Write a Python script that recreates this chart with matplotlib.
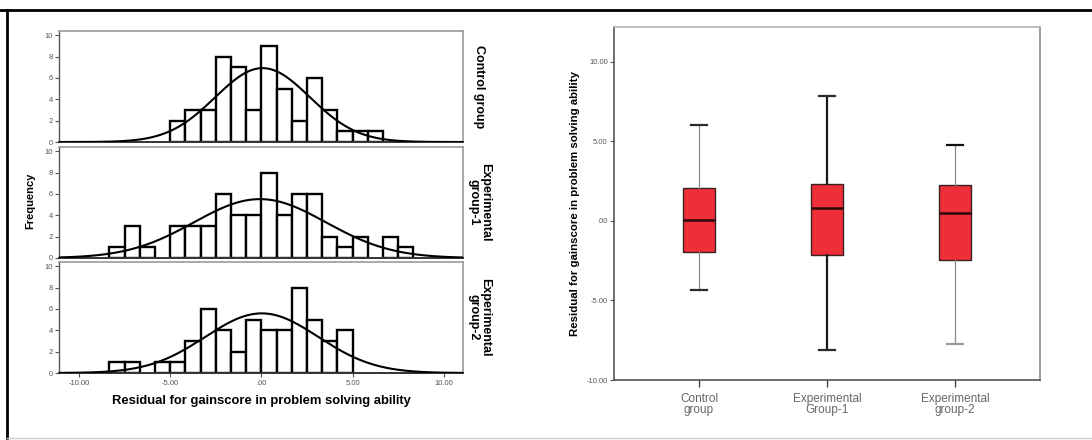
import numpy as np
import matplotlib
matplotlib.use("Agg")
import matplotlib.pyplot as plt
from matplotlib.lines import Line2D

plt.rcParams["font.family"] = ["Liberation Sans", "DejaVu Sans"]

# Histogram counts per group (bin width 5/6, left edge given by *_start)
bin_width = 5.0 / 6.0
control_start = -5.0
control_counts = [2, 3, 3, 8, 7, 3, 9, 5, 2, 6, 3, 1, 1, 1]
exp1_start = -25.0 / 3.0
exp1_counts = [1, 3, 1, 0, 3, 3, 3, 6, 4, 4, 8, 4, 6, 6, 2, 1, 2, 0, 2, 1]
exp2_start = -25.0 / 3.0
exp2_counts = [1, 1, 0, 1, 1, 3, 6, 4, 2, 5, 4, 4, 8, 5, 3, 4]

hist_groups = ["Control group", "Experimental\ngroup-1", "Experimental\ngroup-2"]
hist_starts = [control_start, exp1_start, exp2_start]
hist_counts = [control_counts, exp1_counts, exp2_counts]

# Box plot summaries
box_labels = ["Control\ngroup", "Experimental\nGroup-1", "Experimental\ngroup-2"]
box_whislo = [-4.36, -8.13, -7.74]
box_q1 = [-1.93, -2.14, -2.47]
box_med = [0.05, 0.84, 0.53]
box_q3 = [2.06, 2.35, 2.26]
box_whishi = [6.04, 7.89, 4.78]

W, H = 1092, 440
fig = plt.figure(figsize=(W / 100, H / 100), dpi=100)


def rect(left, top, right, bottom):
    return [left / W, 1 - bottom / H, (right - left) / W, (bottom - top) / H]


tick_color = "#555555"
panel_tops = [31, 147, 262]
panel_h = 111

for i, (name, start, counts) in enumerate(zip(hist_groups, hist_starts, hist_counts)):
    top = panel_tops[i]
    ax = fig.add_axes(rect(59, top, 463, top + panel_h))
    counts = np.array(counts, dtype=float)
    edges = start + bin_width * np.arange(len(counts) + 1)
    centers = edges[:-1] + bin_width / 2
    keep = counts > 0
    ax.bar(edges[:-1][keep], counts[keep], width=bin_width, align="edge",
           facecolor="white", edgecolor="black", linewidth=1.7, zorder=2)

    # normal curve fitted to the binned data
    n = counts.sum()
    mu = np.sum(counts * centers) / n
    sd = np.sqrt(np.sum(counts * (centers - mu) ** 2) / (n - 1))
    xs = np.linspace(-11.1, 11.05, 400)
    ys = n * bin_width * np.exp(-0.5 * ((xs - mu) / sd) ** 2) / (sd * np.sqrt(2 * np.pi))
    ax.plot(xs, ys, color="black", linewidth=1.5, zorder=3)

    ax.set_xlim(-11.1, 11.05)
    ax.set_ylim(0, 10.4)
    ax.set_yticks([0, 2, 4, 6, 8, 10])
    ax.set_yticklabels(["0", "2", "4", "6", "8", "10"], fontsize=5.5, color=tick_color)
    ax.tick_params(axis="y", length=3, width=0.8, color="#555555", pad=1.5)
    for s in ["top", "right"]:
        ax.spines[s].set_color("#9a9a9a")
        ax.spines[s].set_linewidth(1.2)
    ax.spines["left"].set_color("#555555")
    ax.spines["left"].set_linewidth(1.0)
    ax.spines["bottom"].set_color("#333333")
    ax.spines["bottom"].set_linewidth(1.4)

    if i < 2:
        ax.set_xticks([])
    else:
        ax.set_xticks([-10, -5, 0, 5, 10])
        ax.set_xticklabels(["-10.00", "-5.00", ".00", "5.00", "10.00"],
                           fontsize=5.5, color=tick_color)
        ax.tick_params(axis="x", length=3, width=0.8, color="#555555", pad=2)
        ax.set_xlabel("Residual for gainscore in problem solving ability",
                      fontsize=9.4, fontweight="bold", labelpad=6)

    ax.text(1.04, 0.5, name, transform=ax.transAxes, rotation=-90,
            ha="center", va="center", fontsize=9, fontweight="bold",
            linespacing=0.9)

fig.text(30 / W, 1 - 201 / H, "Frequency", rotation=90, ha="center",
         va="center", fontsize=8, fontweight="bold")

# Box plot panel
bx = fig.add_axes(rect(614, 27, 1040, 380))
stats = []
for lab, lo, q1, med, q3, hi in zip(box_labels, box_whislo, box_q1,
                                    box_med, box_q3, box_whishi):
    stats.append({"label": lab, "whislo": lo, "q1": q1, "med": med,
                  "q3": q3, "whishi": hi, "fliers": []})
bp = bx.bxp(stats, positions=[1, 2, 3], widths=0.25, patch_artist=True,
            showfliers=False,
            boxprops=dict(facecolor="#ee2f38", edgecolor="#3a2020", linewidth=1.0),
            medianprops=dict(color="#2a0a0a", linewidth=1.8),
            whiskerprops=dict(color="#8a8a8a", linewidth=0.9),
            capprops=dict(color="#2a2a2a", linewidth=1.6))
# middle group drawn with heavier whiskers
for w in bp["whiskers"][2:4]:
    w.set_color("#1a1a1a")
    w.set_linewidth(1.6)
bp["caps"][5].set_color("#111111")
bp["caps"][4].set_color("#9a9a9a")

bx.set_xlim(0.336, 3.664)
bx.set_ylim(-10, 12.2)
bx.set_yticks([-10, -5, 0, 5, 10])
bx.set_yticklabels(["-10.00", "-5.00", ".00", "5.00", "10.00"],
                   fontsize=5.5, color=tick_color)
bx.tick_params(axis="y", length=3, width=0.8, color="#555555", pad=1.5)
bx.tick_params(axis="x", length=5, width=0.9, color="#333333", pad=4)
bx.set_xticklabels(box_labels, fontsize=8.5, color="#666666", linespacing=0.95)
bx.set_ylabel("Residual for gainscore in problem solving ability",
              fontsize=8.2, fontweight="bold", labelpad=5)
bx.spines["top"].set_color("#b0b0b0")
bx.spines["right"].set_color("#8a8a8a")
bx.spines["left"].set_color("#555555")
bx.spines["bottom"].set_color("#555555")
for s in bx.spines.values():
    s.set_linewidth(1.2)

# outer frame
fig.add_artist(Line2D([0, 1], [1 - 10 / H, 1 - 10 / H], color="black",
                      linewidth=2.0, transform=fig.transFigure))
fig.add_artist(Line2D([7 / W, 7 / W], [1 - 10 / H, 1 - 438 / H], color="black",
                      linewidth=2.0, transform=fig.transFigure))
fig.add_artist(Line2D([7 / W, 1], [1 - 437.5 / H, 1 - 437.5 / H], color="#d0d0d0",
                      linewidth=1.0, transform=fig.transFigure))

fig.savefig("out.png", dpi=100)
